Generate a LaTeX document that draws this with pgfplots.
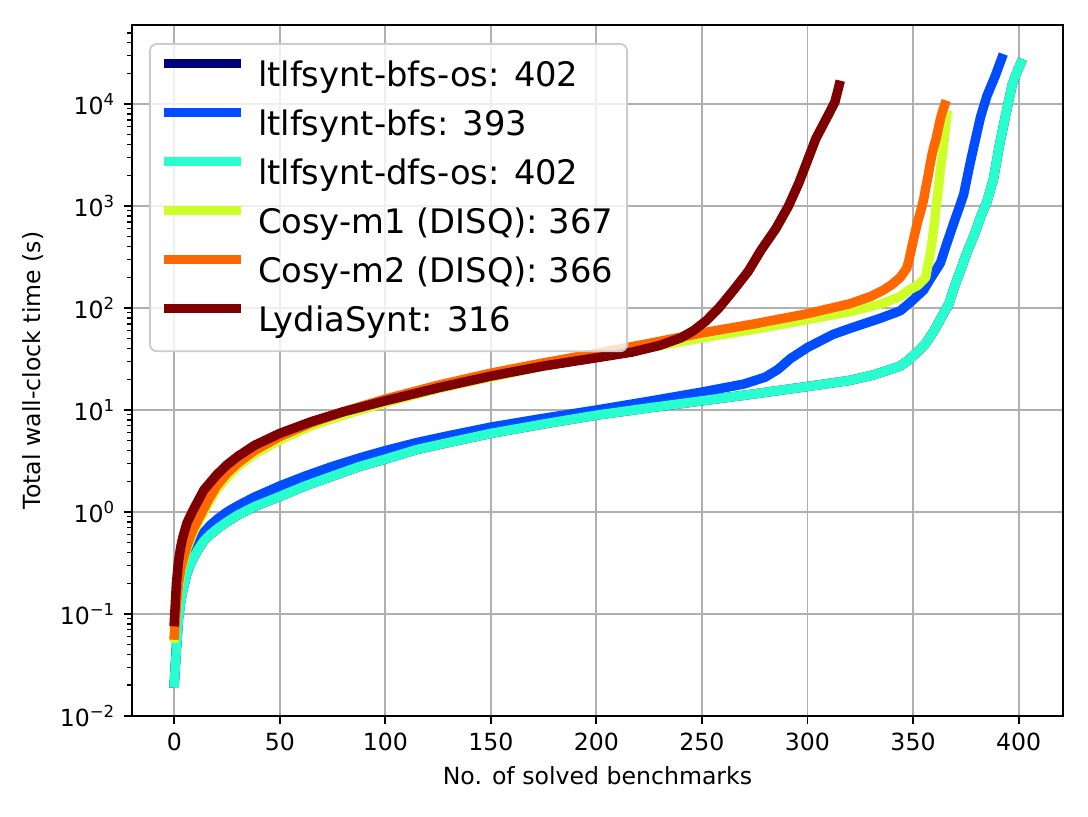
\documentclass[border=0pt]{standalone}
\usepackage{fontspec}
\setmainfont{DejaVu Sans}
\usepackage{pgfplots}
\pgfplotsset{compat=1.18}
\definecolor{c1}{HTML}{00007F}
\definecolor{c2}{HTML}{004CFF}
\definecolor{c3}{HTML}{29FFCE}
\definecolor{c4}{HTML}{CEFF29}
\definecolor{c5}{HTML}{FF6800}
\definecolor{c6}{HTML}{7F0000}
\definecolor{gridc}{HTML}{B0B0B0}
\definecolor{legc}{HTML}{CCCCCC}

\pgfplotstableread{
x y
0 0.021
1 0.045
2 0.09
3 0.13
4 0.17
6 0.25
8 0.32
11 0.42
14 0.52
17 0.6
21 0.7
25 0.8
30 0.93
38 1.13
50 1.42
62 1.8
75 2.25
88 2.8
100 3.3
115 4.1
130 4.8
150 5.9
175 7.3
200 8.9
225 10.5
250 12.3
275 14.4
300 17
320 19.5
331 22
338 24.5
344 27
348 31
352 37
356 45
360 60
364 85
367 110
370 170
373 250
376 370
379 520
382 780
385 1100
388 1800
391 4000
394 8000
397 15500
399 20000
401 25000
}\dfsos

\pgfplotstableread{
x y
0 0.021
1 0.05
2 0.1
3 0.15
4 0.2
6 0.3
8 0.4
11 0.52
14 0.63
17 0.74
21 0.87
25 1.0
30 1.15
38 1.4
50 1.8
62 2.25
75 2.8
88 3.4
100 4.0
115 4.8
130 5.6
150 6.8
175 8.3
200 10
225 12.2
250 15
270 18
280 21
286 25
292 32
300 41
312 55
320 63
335 80
344 94
350 120
355 150
358 190
363 277
366 430
370 750
372 980
374 1300
377 2600
379 4000
382 7500
385 12000
389 19000
392 28000
}\bfs

\pgfplotstableread{
x y
0 0.058
1 0.11
2 0.18
3 0.25
4 0.31
6 0.44
9 0.63
12 0.84
16 1.2
20 1.65
25 2.2
30 2.8
38 3.7
50 5.1
65 7.0
80 8.9
100 11.8
125 16.2
150 21
175 27
200 33
225 41
250 51
275 62
300 77
320 92
335 110
344 130
348 150
352 165
355 190
356 200
357 260
358 330
359 450
360 650
361 1000
362 1500
363 2300
364 3300
365 5000
366 7800
}\cosyone

\pgfplotstableread{
x y
0 0.062
1 0.12
2 0.2
3 0.27
4 0.33
6 0.47
9 0.68
12 0.9
16 1.3
20 1.8
25 2.4
30 3.0
38 4.0
50 5.5
65 7.5
80 9.6
100 12.8
125 17.5
150 23
175 29
200 36
225 45
250 57
275 70
300 88
320 110
330 130
336 150
340 170
344 200
347 245
348 290
349 360
350 450
351 550
352 680
353 800
354 950
355 1150
356 1500
357 1900
358 2500
359 3200
360 3900
361 4600
362 5800
363 7200
364 8500
365 9800
}\cosytwo

\pgfplotstableread{
x y
0 0.084
1 0.2
2 0.33
3 0.45
4 0.56
6 0.78
9 1.05
14 1.64
20 2.3
25 2.9
30 3.5
38 4.5
50 5.9
65 7.7
80 9.6
100 12.3
125 16.5
150 21.5
175 27
200 32.5
217 37
230 43
240 51
246 60
252 75
258 100
265 150
272 230
278 370
285 600
291 1000
296 1700
300 2800
304 4600
311 8700
313 10500
315 15300
}\lydia

\begin{document}
\begin{tikzpicture}
\useasboundingbox (-55.9pt,-42.8pt) rectangle (404.9pt,303.2pt);
\begin{axis}[
  scale only axis, width=394.3pt, height=292.6pt,
  at={(0pt,0pt)}, anchor=south west,
  xmin=-20.05, xmax=421.05,
  ymode=log, ymin=0.01, ymax=59600,
  axis line style={line width=0.8pt},
  tick pos=left, tick align=outside,
  major tick length=3.5pt, minor tick length=2pt,
  every tick/.style={black, line width=0.8pt},
  every minor tick/.style={black, line width=0.6pt},
  xtick={0,50,100,150,200,250,300,350,400},
  xticklabels={0,50,100,150,200,250,300,350,400},
  ytick={0.01,0.1,1,10,100,1000,10000},
  yticklabels={10\textsuperscript{−2},10\textsuperscript{−1},10\textsuperscript{0},10\textsuperscript{1},10\textsuperscript{2},10\textsuperscript{3},10\textsuperscript{4}},
  minor ytick={0.02,0.03,0.04,0.05,0.06,0.07,0.08,0.09,0.2,0.3,0.4,0.5,0.6,0.7,0.8,0.9,2,3,4,5,6,7,8,9,20,30,40,50,60,70,80,90,200,300,400,500,600,700,800,900,2000,3000,4000,5000,6000,7000,8000,9000,20000,30000,40000,50000},
  grid=major,
  major grid style={gridc, line width=0.8pt},
  ticklabel style={font=\fontsize{10}{12}\selectfont},
  label style={font=\fontsize{10}{12}\selectfont},
  xlabel={No. of solved benchmarks},
  ylabel={Total wall-clock time (s)},
  legend cell align=left,
  legend image code/.code={\draw[#1, line width=4pt, line cap=butt] (0pt,5pt) -- (32.6pt,5pt);},
  legend style={
    at={(0.01826,0.974)}, anchor=north west,
    draw=legc, line width=0.8pt, rounded corners=3pt,
    fill=white, fill opacity=0.8, text opacity=1,
    font=\fontsize{14.3}{17}\selectfont,
    inner xsep=3.8pt, inner ysep=5pt,
    row sep=4.4pt,
    /tikz/every odd column/.append style={column sep=3.4pt},
  },
  every axis plot/.append style={line width=4pt, line join=round, line cap=rect},
]
\addplot[c1] table[x=x,y=y] {\dfsos};
\addlegendentry{ltlfsynt-bfs-os: 402}
\addplot[c2] table[x=x,y=y] {\bfs};
\addlegendentry{ltlfsynt-bfs: 393}
\addplot[c3] table[x=x,y=y] {\dfsos};
\addlegendentry{ltlfsynt-dfs-os: 402}
\addplot[c4] table[x=x,y=y] {\cosyone};
\addlegendentry{Cosy-m1 (DISQ): 367}
\addplot[c5] table[x=x,y=y] {\cosytwo};
\addlegendentry{Cosy-m2 (DISQ): 366}
\addplot[c6] table[x=x,y=y] {\lydia};
\addlegendentry{LydiaSynt: 316}
\end{axis}
\end{tikzpicture}
\end{document}
